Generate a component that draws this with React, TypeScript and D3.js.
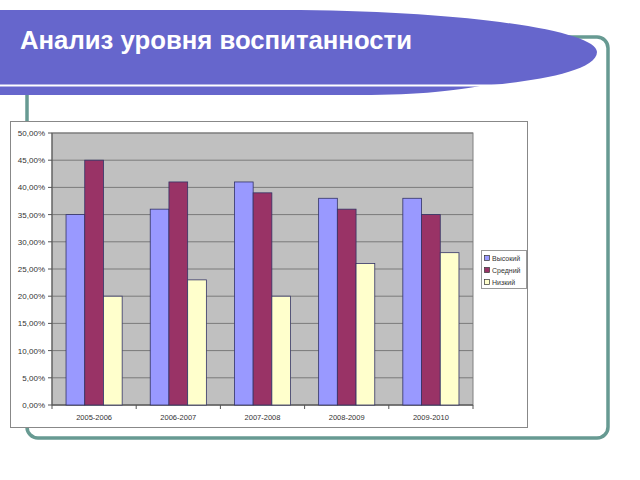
import React from "react";
import * as d3 from "d3";

const title = "Анализ уровня воспитанности";
const categories = ["2005-2006", "2006-2007", "2007-2008", "2008-2009", "2009-2010"];
const seriesNames = ["Высокий", "Средний", "Низкий"];
const high = [35, 36, 41, 38, 38];
const medium = [45, 41, 39, 36, 35];
const low = [20, 23, 20, 26, 28];
const yTicks = [0, 5, 10, 15, 20, 25, 30, 35, 40, 45, 50];
const colors = ["#9999ff", "#993366", "#ffffcc"];

const seriesValues = [high, medium, low];

export default function App() {
  const plot = { left: 52, right: 473, top: 133, bottom: 405 };
  const x = d3.scaleBand<string>().domain(categories).range([plot.left, plot.right]).paddingInner(0).paddingOuter(0);
  const y = d3.scaleLinear().domain([0, 50]).range([plot.bottom, plot.top]);
  const groupW = x.bandwidth();
  const barW = groupW / (3 + 1.5);
  const inner = d3.scaleBand<number>().domain([0, 1, 2]).range([0, barW * 3]);
  const offset = (groupW - barW * 3) / 2;
  const fmt = (v: number) => v.toFixed(2).replace(".", ",") + "%";
  const font = "'Liberation Sans', Arial, sans-serif";
  const teal = "#679a92";

  return (
    <svg width={640} height={480} style={{ position: "absolute", left: 0, top: 0 }} fontFamily={font}>
      <rect x={0} y={0} width={640} height={480} fill="#ffffff" />
      {/* frame */}
      <rect x={27} y={37} width={581} height={401} rx={11} ry={11} fill="none" stroke={teal} strokeWidth={3.5} />
      {/* banner */}
      <path d="M0,10 H300 C480,12 597,32 597,52 C597,72 530,82 480,86 C460,90 420,95 360,95 H0 Z" fill="#6666cc" />
      <line x1={0} y1={85.5} x2={560} y2={85.5} stroke="#ffffff" strokeWidth={2} />
      <text x={20} y={49} fill="#ffffff" fontSize={25.5} fontWeight="bold" textLength={392} lengthAdjust="spacingAndGlyphs">{title}</text>

      {/* chart box */}
      <rect x={10.5} y={121.5} width={517} height={306} fill="#ffffff" stroke="#888" strokeWidth={1} />
      {/* plot area */}
      <rect x={plot.left} y={plot.top} width={plot.right - plot.left} height={plot.bottom - plot.top} fill="#c0c0c0" stroke="#808080" strokeWidth={1} />
      {yTicks.map((t) => (
        <g key={t}>
          <line x1={plot.left} x2={plot.right} y1={y(t)} y2={y(t)} stroke="#7a7a7a" strokeWidth={1} />
          <line x1={plot.left - 4} x2={plot.left} y1={y(t)} y2={y(t)} stroke="#555" strokeWidth={1} />
          <text x={plot.left - 7} y={y(t) + 3} fontSize={8} fill="#333" textAnchor="end">{fmt(t)}</text>
        </g>
      ))}
      <line x1={plot.left} x2={plot.left} y1={plot.top} y2={plot.bottom} stroke="#555" strokeWidth={1} />
      <line x1={plot.left} x2={plot.right} y1={plot.bottom} y2={plot.bottom} stroke="#555" strokeWidth={1} />
      {categories.map((c, i) => (
        <g key={c}>
          <line x1={x(c)!} x2={x(c)!} y1={plot.bottom} y2={plot.bottom + 4} stroke="#555" />
          {seriesValues.map((vals, s) => (
            <rect
              key={s}
              x={x(c)! + offset + inner(s)!}
              y={y(vals[i])}
              width={barW}
              height={plot.bottom - y(vals[i])}
              fill={colors[s]}
              stroke="#333366"
              strokeWidth={0.8}
            />
          ))}
          <text x={x(c)! + groupW / 2} y={420} fontSize={7.5} fill="#333" textAnchor="middle">{c}</text>
        </g>
      ))}
      <line x1={plot.right} x2={plot.right} y1={plot.bottom} y2={plot.bottom + 4} stroke="#555" />

      {/* legend */}
      <rect x={481.5} y={250.5} width={45} height={38} fill="#ffffff" stroke="#999" strokeWidth={1} />
      {seriesNames.map((n, i) => (
        <g key={n}>
          <rect x={484.5} y={255.5 + i * 12} width={5} height={5} fill={colors[i]} stroke="#333" strokeWidth={0.7} />
          <text x={492} y={261 + i * 12} fontSize={7} fill="#333">{n}</text>
        </g>
      ))}
    </svg>
  );
}
